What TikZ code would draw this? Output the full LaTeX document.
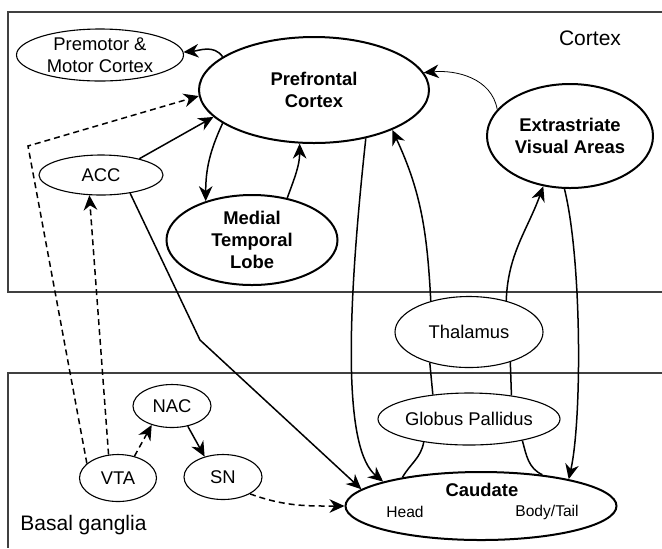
\documentclass[tikz,border=0pt]{standalone}
\usepackage{fontspec}
\setmainfont{Liberation Sans}
\usetikzlibrary{arrows.meta, shapes.geometric}

\begin{document}
\begin{tikzpicture}[
    x=0.5pt, y=-0.5pt,
    every node/.style={font=\fontsize{9.2}{11}\selectfont, align=center, inner sep=0pt},
    area/.style={ellipse, draw, line width=0.55pt},
    major/.style={ellipse, draw, line width=1pt, font=\fontsize{9.2}{11}\selectfont\bfseries},
    region/.style={draw=black!75, line width=0.6pt},
    tag/.style={font=\fontsize{10.5}{12}\selectfont},
    arr/.style={-{Stealth[length=7.5pt, width=6.8pt, inset=2.4pt]}, line width=0.75pt},
    link/.style={line width=0.75pt},
    dop/.style={dash pattern=on 3pt off 2pt}
  ]
    \useasboundingbox (0,0) rectangle (662,548);

    % regions
    \draw[region] (662,12) -- (8,12) -- (8,292) -- (662,292);
    \draw[region] (662,373) -- (8,373) -- (8,548);
    \node[tag] (ctx) at (590,38) {Cortex};
    \node[tag, anchor=west] (bg) at (20,525) {Basal ganglia};

    % cortex
    \node[area, minimum width=83.5pt, minimum height=26pt] (pmc) at (100,55) {Premotor \&\\Motor Cortex};
    \node[major, minimum width=115pt, minimum height=53pt] (pfc) at (314,90) {Prefrontal\\Cortex};
    \node[area, minimum width=62pt, minimum height=20pt] (acc) at (101,175) {ACC};
    \node[major, minimum width=85.5pt, minimum height=45pt] (mtl) at (252,240) {Medial\\Temporal\\Lobe};
    \node[major, minimum width=83pt, minimum height=52pt] (eva) at (570,136) {Extrastriate\\Visual Areas};

    % thalamus
    \node[area, minimum width=74pt, minimum height=35.5pt] (thal) at (469,332) {Thalamus};

    % basal ganglia
    \node[area, minimum width=91pt, minimum height=26pt] (gp) at (469,419) {Globus Pallidus};
    \node[major, minimum width=135.5pt, minimum height=34pt] (cau) at (481,506) {};
    \node[font=\fontsize{9.2}{11}\selectfont\bfseries] (cauname) at (482,490) {Caudate};
    \node[font=\fontsize{7.8}{9}\selectfont] (cauhead) at (405,512) {Head};
    \node[font=\fontsize{7.8}{9}\selectfont] (cautail) at (547,512) {Body/Tail};
    \node[area, minimum width=39pt, minimum height=21.5pt] (nac) at (172,406) {NAC};
    \node[area, minimum width=38.5pt, minimum height=23.5pt] (vta) at (118,478) {VTA};
    \node[area, minimum width=39pt, minimum height=22.5pt] (sn) at (223,477) {SN};

    \coordinate (corner) at (28,146);
    \coordinate (kink) at (200,340);

    % cortical links
    \draw[arr] (pfc.160) to[out=125, in=5] (pmc.2);
    \draw[arr] (acc.23) -- (pfc.195);
    \draw[arr] (pfc.200) to[out=245, in=90] (mtl.140);
    \draw[arr] (mtl.50) to[out=70, in=270] (pfc.255);
    \draw[arr, line width=0.4pt] (eva.160) to[out=100, in=5] (pfc.9);

    % dopamine
    \draw[arr, dop] (vta.155) -- (corner) -- (pfc.183);
    \draw[arr, dop] (vta.112) -- (acc.240);
    \draw[arr, dop] (vta.53) -- (nac.223);
    \draw[arr] (nac.308) -- (sn.132);
    \draw[arr, dop] (sn.328) to[out=-20, in=180] (cau.180);

    % loops
    \draw[arr] (acc.328) -- (kink) -- (cau.172);
    \draw[arr] (pfc.317) .. controls (345,330) and (345,450) .. (cau.166);
    \draw[link] (gp.207) to[out=260, in=60] (cau.160);
    \draw[link] (gp.146) -- (thal.218);
    \draw[arr] (thal.141) to[out=93, in=295] (pfc.333);
    \draw[link] (gp.338) to[out=285, in=155] (cau.27);
    \draw[link] (gp.29) -- (thal.324);
    \draw[arr] (thal.40) to[out=88, in=250] (eva.242);
    \draw[arr] (eva.264) .. controls (582,260) and (582,420) .. (cau.17);
\end{tikzpicture}
\end{document}
